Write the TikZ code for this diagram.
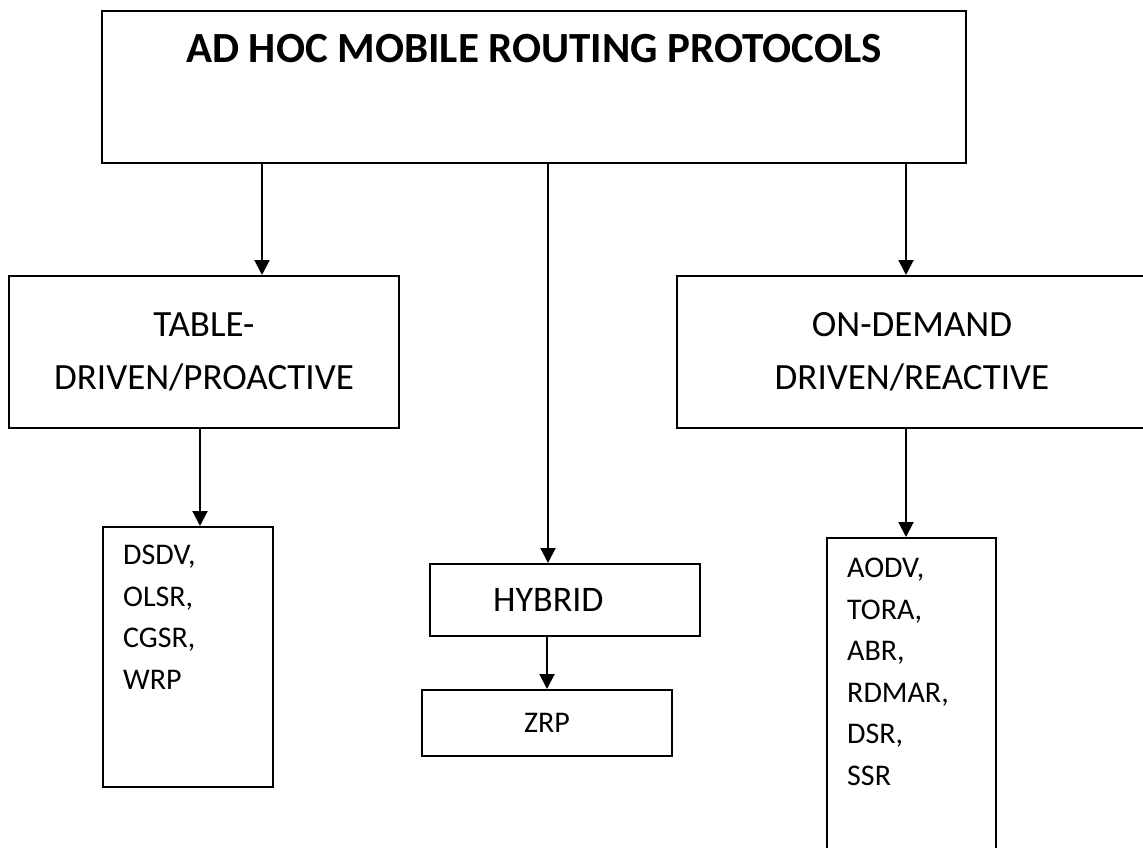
\documentclass[tikz,border=0pt]{standalone}
\usepackage{fontspec}
\setmainfont{Carlito}
\usetikzlibrary{arrows.meta}
\tikzset{
  box/.style={draw=black, line width=2pt, rectangle, inner sep=0pt},
  link/.style={draw=black, line width=2pt, -{Triangle[width=15pt,length=15pt]}},
  bigtext/.style={font=\fontsize{37}{53}\selectfont, align=center},
  listtext/.style={font=\fontsize{30}{41.5}\selectfont, align=left, anchor=north west, inner sep=0pt},
}
\begin{document}
\begin{tikzpicture}[x=1pt,y=-1pt]
\useasboundingbox (0,0) rectangle (1143,848);
\clip (0,0) rectangle (1143,848);

% root of the taxonomy
\node[box, minimum width=864pt, minimum height=152pt] (root) at (534,87) {};
\node[font=\bfseries\fontsize{43}{50}\selectfont, anchor=base, inner sep=0pt] (title) at (534,63) {AD HOC MOBILE ROUTING PROTOCOLS};

% three families
\node[box, bigtext, minimum width=390pt, minimum height=152pt] (tbl) at (204,352) {TABLE-\\DRIVEN/PROACTIVE};
\node[box, bigtext, minimum width=470pt, minimum height=152pt] (ond) at (912,352) {ON-DEMAND\\DRIVEN/REACTIVE};
\node[box, minimum width=270pt, minimum height=72pt] (hyb) at (565,600) {};
\node[font=\fontsize{36}{44}\selectfont, anchor=base west, inner sep=0pt] (hybt) at (493,611) {HYBRID};

% protocol lists
\node[box, minimum width=170pt, minimum height=260pt, anchor=north west] (pro) at (102,526) {};
\node[listtext] (prot) at (123,545) {DSDV,\\OLSR,\\CGSR,\\WRP};
\node[box, minimum width=250pt, minimum height=66pt] (zrp) at (547,723) {};
\node[font=\fontsize{30}{36}\selectfont] (zrpt) at (zrp.center) {ZRP};
\node[box, minimum width=169pt, minimum height=330pt, anchor=north west] (rea) at (826,537) {};
\node[listtext] (reat) at (847,558) {AODV,\\TORA,\\ABR,\\RDMAR,\\DSR,\\SSR};

% connectors
\draw[link] (262,0 |- root.south) -- (262,0 |- tbl.north);
\draw[link] (548,0 |- root.south) -- (548,0 |- hyb.north);
\draw[link] (906,0 |- root.south) -- (906,0 |- ond.north);
\draw[link] (200,0 |- tbl.south) -- (200,0 |- pro.north);
\draw[link] (547,0 |- hyb.south) -- (547,0 |- zrp.north);
\draw[link] (906,0 |- ond.south) -- (906,0 |- rea.north);
\end{tikzpicture}
\end{document}
